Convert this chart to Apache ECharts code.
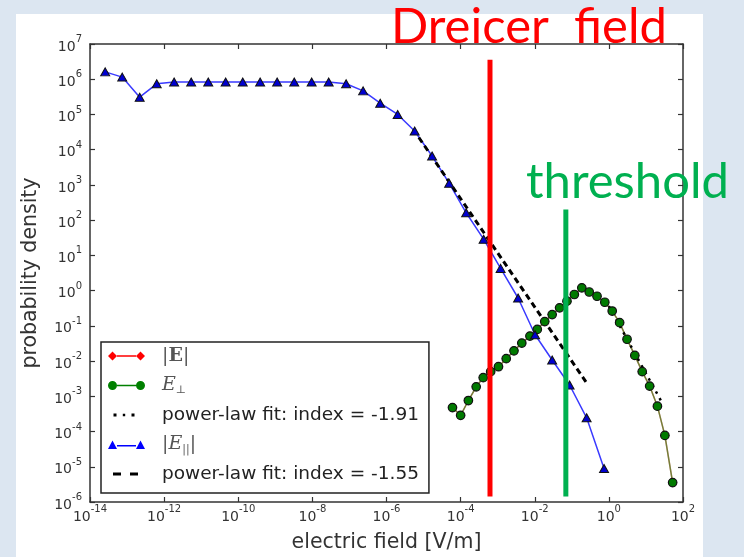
<!DOCTYPE html>
<html lang="en">
<head>
<meta charset="UTF-8">
<title>Electric field distribution</title>
<style>
    body {
        margin: 0;
        background-color: #dce6f1;
    }

    #chart {
        width: 744px;
        height: 557px;
    }
</style>
</head>
<body>

<div id="chart"></div>

<script src="https://cdn.jsdelivr.net/npm/echarts@6/dist/echarts.min.js"></script>
<script>

    // |E_par| histogram (blue triangles)
    const parX = [2.57e-14, 7.41e-14, 2.19e-13, 6.31e-13, 1.86e-12, 5.37e-12, 1.55e-11, 4.57e-11, 1.32e-10, 3.89e-10,
        1.12e-9, 3.24e-9, 9.55e-9, 2.75e-8, 8.13e-8, 2.34e-7, 6.76e-7, 2.0e-6, 5.75e-6, 1.70e-5,
        4.90e-5, 1.41e-4, 4.17e-4, 1.20e-3, 3.55e-3, 1.02e-2, 2.95e-2, 8.71e-2, 0.251, 0.741];
    const parY = [1.62e6, 1.15e6, 3.09e5, 7.41e5, 8.32e5, 8.32e5, 8.32e5, 8.32e5, 8.32e5, 8.32e5,
        8.32e5, 8.32e5, 8.32e5, 8.32e5, 7.41e5, 4.68e5, 2.09e5, 1.0e5, 3.39e4, 6.61e3,
        1.12e3, 162, 28.8, 4.27, 0.617, 5.6e-2, 1.07e-2, 2.09e-3, 2.45e-4, 8.91e-6];

    // E_perp histogram (green circles)
    const perpX = [6.03e-5, 1.0e-4, 1.62e-4, 2.63e-4, 4.07e-4, 6.46e-4, 1.05e-3, 1.70e-3, 2.75e-3, 4.47e-3,
        7.41e-3, 1.17e-2, 1.86e-2, 2.95e-2, 4.68e-2, 7.41e-2, 0.117, 0.186, 0.295, 0.479,
        0.776, 1.23, 1.95, 3.09, 5.01, 7.94, 12.6, 20.4, 32.4, 52.5];
    const perpY = [4.79e-4, 2.88e-4, 7.59e-4, 1.86e-3, 3.39e-3, 5.01e-3, 6.92e-3, 1.17e-2, 1.95e-2, 3.24e-2,
        5.13e-2, 7.94e-2, 0.132, 0.209, 0.324, 0.501, 0.776, 1.20, 0.912, 0.692,
        0.468, 0.263, 0.123, 4.17e-2, 1.45e-2, 5.01e-3, 1.95e-3, 5.25e-4, 7.76e-5, 3.55e-6];

    // |E| histogram (red diamonds, they sit under the green circles)
    const absX = [6.03e-5, 1.0e-4, 1.62e-4, 2.63e-4, 4.07e-4, 6.46e-4, 1.05e-3, 1.70e-3, 2.75e-3, 4.47e-3,
        7.41e-3, 1.17e-2, 1.86e-2, 2.95e-2, 4.68e-2, 7.41e-2, 0.117, 0.186, 0.295, 0.479,
        0.776, 1.23, 1.95, 3.09, 5.01, 7.94, 12.6, 20.4, 32.4, 52.5];
    const absY = [4.79e-4, 2.88e-4, 7.59e-4, 1.86e-3, 3.39e-3, 5.01e-3, 6.92e-3, 1.17e-2, 1.95e-2, 3.24e-2,
        5.13e-2, 7.94e-2, 0.132, 0.209, 0.324, 0.501, 0.776, 1.20, 0.912, 0.692,
        0.468, 0.263, 0.123, 4.17e-2, 1.45e-2, 5.01e-3, 1.95e-3, 5.25e-4, 7.76e-5, 3.55e-6];

    // power-law fits (end points)
    const fit191X = [1.0, 28.2];
    const fit191Y = [0.363, 6.17e-4];
    const fit155X = [5.25e-6, 0.263];
    const fit155Y = [3.80e4, 2.24e-3];

    // marker lines drawn on top
    const dreicerX = [6.2e-4, 6.2e-4];
    const dreicerY = [1.44e-6, 3.6e6];
    const thresholdX = [0.069, 0.069];
    const thresholdY = [1.44e-6, 200];

    // tick exponents (powers of ten)
    const xTicks = [-14, -12, -10, -8, -6, -4, -2, 0, 2];
    const yTicks = [-6, -5, -4, -3, -2, -1, 0, 1, 2, 3, 4, 5, 6, 7];

    const names = ['|E|', 'E⊥', 'power-law fit: index = -1.91', '|E∥|', 'power-law fit: index = -1.55'];

    // points on log10 scale
    const toPts = (xs, ys) => xs.map((x, i) => [Math.log10(x), Math.log10(ys[i])]);

    const chart = echarts.init(document.getElementById('chart'));

    const powLabel = v => '{b|10}{s|' + v + '}';
    const powRich = {
        b: { fontFamily: 'DejaVu Sans', fontSize: 14, color: '#333', padding: [6, 0, 0, 0] },
        s: { fontFamily: 'DejaVu Sans', fontSize: 10, color: '#333', padding: [0, 0, 9, 0] },
    };
    const axisLine = { show: true, onZero: false, lineStyle: { color: '#333', width: 1.5 } };
    const axisTick = { show: true, inside: true, length: 5, lineStyle: { color: '#333', width: 1.2 } };

    // legend icons, 37 x 10 frame
    const frame = 'M0,0M37,10';
    const icons = [
        'path://' + frame + 'M0,5L4.5,0.5L9,5L4.5,9.5ZM9,4.3L28,4.3L28,5.7L9,5.7ZM28,5L32.5,0.5L37,5L32.5,9.5Z',
        'path://' + frame + 'M0,5A4.5,4.5,0,1,0,9,5A4.5,4.5,0,1,0,0,5ZM9,4.3L28,4.3L28,5.7L9,5.7ZM28,5A4.5,4.5,0,1,0,37,5A4.5,4.5,0,1,0,28,5Z',
        'path://' + frame + 'M5.5,3.5L8.5,3.5L8.5,6.5L5.5,6.5ZM14.8,3.8L17.2,3.8L17.2,6.2L14.8,6.2ZM23.5,3.5L26.5,3.5L26.5,6.5L23.5,6.5Z',
        'path://' + frame + 'M0,9.5L4.5,1L9,9.5ZM9,5.6L28,5.6L28,7L9,7ZM28,9.5L32.5,1L37,9.5Z',
        'path://' + frame + 'M5,3.5L13,3.5L13,6.5L5,6.5ZM22,3.5L30,3.5L30,6.5L22,6.5Z',
    ];
    const iconColors = ['#ff0000', '#008000', '#000', '#0000ff', '#000'];

    const option = {
        animation: false,
        backgroundColor: '#dce6f1',
        grid: {
            left: 90,
            right: 61,
            top: 44,
            bottom: 55,
            outerBoundsMode: 'none',
        },
        graphic: [
            { type: 'rect', z: -10, shape: { x: 16, y: 14, width: 687, height: 543 }, style: { fill: '#fff' } },
            {
                type: 'text', z: 100,
                style: { x: 391, y: 27, text: 'Dreicer  field', fill: '#ff0000', font: '49px Lato', verticalAlign: 'middle', textVerticalAlign: 'middle' },
            },
            {
                type: 'text', z: 100,
                style: { x: 526, y: 182, text: 'threshold', fill: '#00b050', font: '49px Lato', verticalAlign: 'middle', textVerticalAlign: 'middle' },
            },
        ],
        legend: {
            orient: 'vertical',
            left: 101,
            top: 342,
            padding: [4, 10, 9, 7],
            itemWidth: 37,
            itemHeight: 10,
            itemGap: 9.5,
            selectedMode: false,
            backgroundColor: '#fff',
            borderColor: '#222',
            borderWidth: 1.5,
            borderRadius: 0,
            data: names.map((n, i) => ({
                name: n,
                icon: icons[i],
                itemStyle: { color: iconColors[i], borderWidth: 0 },
            })),
            formatter: name => {
                if (name === '|E|') return '{m||}{mb|E}{m||}';
                if (name === 'E⊥') return '{mi|E}{sub|⊥}';
                if (name === '|E∥|') return '{m||}{mi|E}{sub|||}{m||}';
                return name;
            },
            textStyle: {
                fontFamily: 'DejaVu Sans',
                fontSize: 18.5,
                color: '#222',
                lineHeight: 20,
                padding: [0, 0, 0, 12],
                rich: {
                    m: { fontFamily: 'DejaVu Serif', fontSize: 19, color: '#555', lineHeight: 20 },
                    mb: { fontFamily: 'DejaVu Serif', fontWeight: 'bold', fontSize: 19, color: '#555', lineHeight: 20 },
                    mi: { fontFamily: 'DejaVu Serif', fontStyle: 'italic', fontSize: 19, color: '#555', lineHeight: 20 },
                    sub: { fontFamily: 'DejaVu Serif', fontSize: 11, color: '#555', padding: [9, 0, 0, 0] },
                },
            },
        },
        xAxis: [
            {
                type: 'value',
                min: xTicks[0],
                max: xTicks[xTicks.length - 1],
                interval: xTicks[1] - xTicks[0],
                name: 'electric field [V/m]',
                nameLocation: 'middle',
                nameGap: 30,
                nameTextStyle: { fontFamily: 'DejaVu Sans', fontSize: 20.5, color: '#333' },
                axisLine,
                axisTick,
                splitLine: { show: false },
                axisLabel: { margin: 2, formatter: powLabel, rich: powRich },
            },
            {
                type: 'value',
                position: 'top',
                min: xTicks[0],
                max: xTicks[xTicks.length - 1],
                interval: xTicks[1] - xTicks[0],
                axisLine,
                axisTick,
                splitLine: { show: false },
                axisLabel: { show: false },
            },
        ],
        yAxis: [
            {
                type: 'value',
                min: yTicks[0],
                max: yTicks[yTicks.length - 1],
                interval: yTicks[1] - yTicks[0],
                name: 'probability density',
                nameLocation: 'middle',
                nameRotate: 90,
                nameGap: 49,
                nameTextStyle: { fontFamily: 'DejaVu Sans', fontSize: 20.5, color: '#333' },
                axisLine,
                axisTick,
                splitLine: { show: false },
                axisLabel: { margin: 8, formatter: powLabel, rich: powRich },
            },
            {
                type: 'value',
                position: 'right',
                min: yTicks[0],
                max: yTicks[yTicks.length - 1],
                interval: yTicks[1] - yTicks[0],
                axisLine,
                axisTick,
                splitLine: { show: false },
                axisLabel: { show: false },
            },
        ],
        series: [
            {
                name: names[0],
                type: 'line',
                data: toPts(absX, absY),
                color: '#ff0000',
                symbol: 'diamond',
                symbolSize: 8,
                itemStyle: { color: '#ff0000', borderColor: '#111', borderWidth: 1 },
                lineStyle: { color: 'rgba(255,0,0,0.5)', width: 1.5 },
            },
            {
                name: names[1],
                type: 'line',
                data: toPts(perpX, perpY),
                color: '#008000',
                symbol: 'circle',
                symbolSize: 8.5,
                itemStyle: { color: '#007a00', borderColor: '#111', borderWidth: 1.2 },
                lineStyle: { color: 'rgba(0,128,0,0.55)', width: 1.5 },
            },
            {
                name: names[2],
                type: 'line',
                data: toPts(fit191X, fit191Y),
                color: '#000',
                symbol: 'none',
                lineStyle: { color: '#000', width: 2.5, type: [2.5, 5] },
            },
            {
                name: names[3],
                type: 'line',
                data: toPts(parX, parY),
                color: '#0000ff',
                symbol: 'triangle',
                symbolSize: [9, 8],
                itemStyle: { color: '#0000d0', borderColor: '#111', borderWidth: 1 },
                lineStyle: { color: '#3a3aff', width: 1.5 },
            },
            {
                name: names[4],
                type: 'line',
                data: toPts(fit155X, fit155Y),
                color: '#000',
                symbol: 'none',
                lineStyle: { color: '#000', width: 3, type: [6, 4] },
            },
            {
                type: 'line',
                data: toPts(dreicerX, dreicerY),
                symbol: 'none',
                silent: true,
                z: 10,
                lineStyle: { color: '#ff0000', width: 5 },
            },
            {
                type: 'line',
                data: toPts(thresholdX, thresholdY),
                symbol: 'none',
                silent: true,
                z: 10,
                lineStyle: { color: '#00b050', width: 5 },
            },
        ],
    };

    chart.setOption(option);

</script>
</body>
</html>
